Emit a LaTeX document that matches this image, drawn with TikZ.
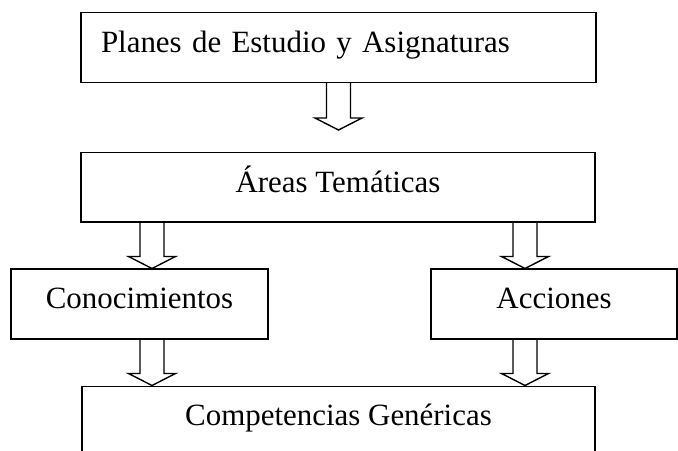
\documentclass[tikz,border=0pt]{standalone}
\usepackage{fontspec}
\setmainfont{Liberation Serif}
\usetikzlibrary{calc}

\tikzset{
  box/.style={draw, line width=1pt, rectangle, inner sep=0pt, minimum height=1.74cm,
    text height=0.55cm, text depth=0.31cm, font=\fontsize{22}{26}\selectfont},
  hollow/.style={draw, line width=1pt, line join=miter}
}
% hollow block arrow from #1 down to its tip #2
\newcommand{\blockarrow}[2]{%
  \draw[hollow] ($(#1)+(-0.3,0)$) -- ($(#2)+(-0.3,0.3)$) -- ($(#2)+(-0.5875,0.3)$) -- (#2)
    -- ($(#2)+(0.5875,0.3)$) -- ($(#2)+(0.3,0.3)$) -- ($(#1)+(0.3,0)$);}

\begin{document}
\begin{tikzpicture}
  \clip (0,0) rectangle (16.95,11.25);
  % draw boxes
  \node[box, minimum width=12.875cm, text width=11.875cm, align=left] (plan) at (8.4625,10.0625) {Planes de Estudio y Asignaturas};
  \node[box, minimum width=12.85cm] (areas) at (8.45,6.569) {Áreas Temáticas};
  \node[box, minimum width=6.425cm] (cono) at (3.4875,3.65) {Conocimientos};
  \node[box, minimum width=6.15cm] (acc) at (13.85,3.65) {Acciones};
  \node[box, minimum width=12.825cm] (comp) at (8.4625,0.725) {Competencias Genéricas};
  % arrow columns
  \coordinate (lx) at (3.8,0);
  \coordinate (rx) at (13.125,0);
  % draw arrows
  \coordinate (p1) at ($(plan.south)+(0,-1.175)$);
  \blockarrow{plan.south}{p1}
  \coordinate (a1) at (areas.south -| lx);
  \coordinate (c1) at (cono.north -| lx);
  \blockarrow{a1}{c1}
  \coordinate (a2) at (areas.south -| rx);
  \coordinate (c2) at (acc.north -| rx);
  \blockarrow{a2}{c2}
  \coordinate (c3) at (cono.south -| lx);
  \coordinate (d1) at (comp.north -| lx);
  \blockarrow{c3}{d1}
  \coordinate (c4) at (acc.south -| rx);
  \coordinate (d2) at (comp.north -| rx);
  \blockarrow{c4}{d2}
\end{tikzpicture}
\end{document}
